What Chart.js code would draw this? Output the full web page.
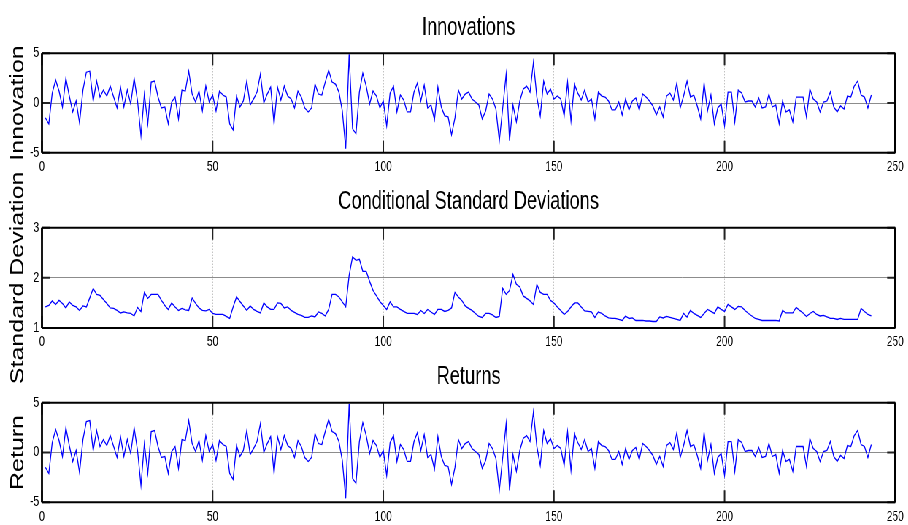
<!DOCTYPE html>
<html>
<head>
<meta charset="utf-8">
<script src="https://cdn.jsdelivr.net/npm/chart.js@4.4.0/dist/chart.umd.min.js"></script>
<style>
html, body { margin: 0; padding: 0; background: #fff; overflow: hidden; }
/* the original figure is squeezed sideways, so draw wide and squeeze */
#wrap { position: absolute; left: 0; top: 0; width: 1244px; height: 525px; transform: scaleX(0.73); transform-origin: 0 0; }
#wrap canvas { position: absolute; left: 0; top: 0; }
</style>
</head>
<body>
<div id="wrap">
  <canvas id="innovChart" width="1244" height="525"></canvas>
  <canvas id="sigmaChart" width="1244" height="525"></canvas>
  <canvas id="returnChart" width="1244" height="525"></canvas>
</div>
<script>
// Data
const xTicks = [0, 50, 100, 150, 200, 250];

const innovations = [
  -1.5, -2.1, 1.0, 2.3, 1.2, -0.4, 2.5, 0.7, -0.9, 0.2,
  -2.0, 1.3, 3.1, 3.2, 0.2, 2.2, 0.6, 1.3, 0.7, 1.7,
  0.6, -0.5, 1.6, -0.4, 1.3, -0.1, 2.5, 0.2, -3.3, 0.9,
  -2.1, 2.1, 2.2, 0.6, -0.5, -0.4, -2.1, 0.1, 0.6, -1.6,
  1.3, 1.2, 3.2, 0.9, 0.1, 1.2, -0.8, 1.7, 0.1, 0.8,
  -0.8, 1.2, 0.8, 0.6, -2.1, -2.7, 0.7, -0.4, 0.2, 2.2,
  -0.2, 0.4, 1.1, 2.9, 0.0, 0.9, 1.6, -2.1, 1.6, 0.3,
  1.7, 0.7, 0.4, -0.5, 1.2, 0.6, -0.5, -0.9, -0.5, 1.9,
  0.9, 0.8, 2.1, 3.3, 2.1, 1.9, 1.1, -0.8, -4.6, 4.9,
  -2.6, -3.1, 1.1, 3.0, 1.7, -0.1, 1.2, 0.7, -0.5, 0.2,
  -2.3, 1.0, 1.7, -0.9, 0.8, 0.3, -0.9, -0.9, 1.1, 2.0,
  0.2, 1.8, -0.5, -0.2, -1.7, 1.6, -0.4, -1.3, -1.4, -3.2,
  -1.5, 1.3, 0.4, 0.9, 1.1, 0.4, 0.1, -0.2, -1.6, -0.8,
  0.9, 0.4, -0.6, -3.8, -0.5, 2.9, -3.8, -0.2, -1.9, 0.2,
  1.4, 1.7, 1.1, 4.1, 0.6, -1.3, 2.2, 0.9, 1.4, 0.4,
  0.7, 0.4, -1.3, 2.1, -1.8, 1.9, 1.0, 0.3, 1.3, 0.1,
  0.4, -1.6, 1.1, 0.7, 0.6, 0.2, -0.7, -0.7, 0.1, -1.2,
  0.4, -0.7, 0.2, 0.5, -0.7, 0.9, 0.6, 0.2, -0.3, -1.2,
  -0.4, -1.4, 0.7, 1.0, 0.3, 2.0, -0.5, 0.7, 2.2, 0.6,
  0.8, -0.3, -1.6, 2.0, -0.8, 0.8, -2.1, -0.5, -0.1, -2.3,
  1.1, 1.1, -1.9, 1.3, 1.0, 0.1, 0.2, 0.2, -0.4, 0.5,
  -0.5, -0.4, 0.9, -0.4, -0.2, -2.1, 0.2, -0.9, -0.7, -1.9,
  0.6, 0.6, 0.6, -1.4, 1.4, 0.4, 0.1, -0.9, 0.1, 0.2,
  1.1, -0.4, -0.9, -0.3, -0.6, 0.7, 0.6, 1.7, 2.2, 0.8,
  0.6, -0.5, 0.8
];

const sigmas = [
  1.42, 1.45, 1.54, 1.47, 1.55, 1.49, 1.40, 1.52, 1.45, 1.42,
  1.35, 1.44, 1.42, 1.60, 1.79, 1.67, 1.65, 1.57, 1.49, 1.40,
  1.39, 1.35, 1.30, 1.32, 1.30, 1.29, 1.24, 1.41, 1.33, 1.71,
  1.59, 1.67, 1.67, 1.67, 1.55, 1.45, 1.37, 1.50, 1.42, 1.35,
  1.39, 1.36, 1.35, 1.60, 1.49, 1.40, 1.35, 1.34, 1.37, 1.29,
  1.27, 1.27, 1.27, 1.23, 1.19, 1.42, 1.62, 1.53, 1.44, 1.35,
  1.44, 1.37, 1.33, 1.30, 1.50, 1.42, 1.37, 1.37, 1.50, 1.49,
  1.40, 1.42, 1.35, 1.31, 1.27, 1.25, 1.21, 1.21, 1.24, 1.22,
  1.32, 1.29, 1.24, 1.37, 1.67, 1.67, 1.62, 1.52, 1.42, 2.05,
  2.42, 2.35, 2.37, 2.13, 2.13, 1.93, 1.75, 1.64, 1.53, 1.45,
  1.37, 1.52, 1.42, 1.42, 1.37, 1.33, 1.29, 1.29, 1.29, 1.27,
  1.35, 1.29, 1.37, 1.32, 1.27, 1.37, 1.37, 1.33, 1.35, 1.40,
  1.71, 1.62, 1.55, 1.44, 1.39, 1.35, 1.29, 1.23, 1.21, 1.29,
  1.29, 1.26, 1.21, 1.23, 1.79, 1.67, 1.75, 2.07, 1.87, 1.82,
  1.64, 1.59, 1.54, 1.47, 1.87, 1.71, 1.67, 1.67, 1.55, 1.50,
  1.42, 1.35, 1.27, 1.33, 1.42, 1.50, 1.50, 1.42, 1.34, 1.33,
  1.32, 1.21, 1.32, 1.29, 1.24, 1.20, 1.19, 1.19, 1.17, 1.15,
  1.24, 1.19, 1.20, 1.15, 1.15, 1.15, 1.14, 1.14, 1.13, 1.13,
  1.22, 1.20, 1.23, 1.21, 1.19, 1.17, 1.15, 1.29, 1.22, 1.35,
  1.29, 1.25, 1.21, 1.29, 1.37, 1.33, 1.29, 1.42, 1.37, 1.33,
  1.47, 1.42, 1.37, 1.43, 1.42, 1.35, 1.29, 1.24, 1.19, 1.17,
  1.15, 1.15, 1.15, 1.15, 1.15, 1.14, 1.35, 1.30, 1.30, 1.30,
  1.41, 1.35, 1.30, 1.23, 1.29, 1.33, 1.27, 1.24, 1.25, 1.22,
  1.19, 1.19, 1.17, 1.19, 1.17, 1.17, 1.17, 1.17, 1.17, 1.39,
  1.33, 1.27, 1.24
];

const returns = [
  -1.5, -2.1, 1.0, 2.3, 1.2, -0.4, 2.5, 0.7, -0.9, 0.2,
  -2.0, 1.3, 3.1, 3.2, 0.2, 2.2, 0.6, 1.3, 0.7, 1.7,
  0.6, -0.5, 1.6, -0.4, 1.3, -0.1, 2.5, 0.2, -3.3, 0.9,
  -2.1, 2.1, 2.2, 0.6, -0.5, -0.4, -2.1, 0.1, 0.6, -1.6,
  1.3, 1.2, 3.2, 0.9, 0.1, 1.2, -0.8, 1.7, 0.1, 0.8,
  -0.8, 1.2, 0.8, 0.6, -2.1, -2.7, 0.7, -0.4, 0.2, 2.2,
  -0.2, 0.4, 1.1, 2.9, 0.0, 0.9, 1.6, -2.1, 1.6, 0.3,
  1.7, 0.7, 0.4, -0.5, 1.2, 0.6, -0.5, -0.9, -0.5, 1.9,
  0.9, 0.8, 2.1, 3.3, 2.1, 1.9, 1.1, -0.8, -4.6, 4.9,
  -2.6, -3.1, 1.1, 3.0, 1.7, -0.1, 1.2, 0.7, -0.5, 0.2,
  -2.3, 1.0, 1.7, -0.9, 0.8, 0.3, -0.9, -0.9, 1.1, 2.0,
  0.2, 1.8, -0.5, -0.2, -1.7, 1.6, -0.4, -1.3, -1.4, -3.2,
  -1.5, 1.3, 0.4, 0.9, 1.1, 0.4, 0.1, -0.2, -1.6, -0.8,
  0.9, 0.4, -0.6, -3.8, -0.5, 2.9, -3.8, -0.2, -1.9, 0.2,
  1.4, 1.7, 1.1, 4.1, 0.6, -1.3, 2.2, 0.9, 1.4, 0.4,
  0.7, 0.4, -1.3, 2.1, -1.8, 1.9, 1.0, 0.3, 1.3, 0.1,
  0.4, -1.6, 1.1, 0.7, 0.6, 0.2, -0.7, -0.7, 0.1, -1.2,
  0.4, -0.7, 0.2, 0.5, -0.7, 0.9, 0.6, 0.2, -0.3, -1.2,
  -0.4, -1.4, 0.7, 1.0, 0.3, 2.0, -0.5, 0.7, 2.2, 0.6,
  0.8, -0.3, -1.6, 2.0, -0.8, 0.8, -2.1, -0.5, -0.1, -2.3,
  1.1, 1.1, -1.9, 1.3, 1.0, 0.1, 0.2, 0.2, -0.4, 0.5,
  -0.5, -0.4, 0.9, -0.4, -0.2, -2.1, 0.2, -0.9, -0.7, -1.9,
  0.6, 0.6, 0.6, -1.4, 1.4, 0.4, 0.1, -0.9, 0.1, 0.2,
  1.1, -0.4, -0.9, -0.3, -0.6, 0.7, 0.6, 1.7, 2.2, 0.8,
  0.6, -0.5, 0.8
];

const FONT = "'Liberation Sans', Arial, sans-serif";

// Box + inward tick marks, MATLAB style
const boxPlugin = {
  id: 'matlabBox',
  afterDraw(chart) {
    const { ctx, chartArea: a, scales } = chart;
    ctx.save();
    ctx.strokeStyle = '#222';
    ctx.lineWidth = 2;
    ctx.beginPath();
    scales.x.ticks.forEach(t => {
      const px = scales.x.getPixelForValue(t.value);
      ctx.moveTo(px, a.top); ctx.lineTo(px, a.top + 12);
      ctx.moveTo(px, a.bottom); ctx.lineTo(px, a.bottom - 12);
    });
    scales.y.ticks.forEach(t => {
      const py = scales.y.getPixelForValue(t.value);
      ctx.moveTo(a.left, py); ctx.lineTo(a.left + 11, py);
      ctx.moveTo(a.right, py); ctx.lineTo(a.right - 11, py);
    });
    ctx.stroke();
    ctx.strokeStyle = '#000';
    ctx.lineWidth = 2;
    ctx.beginPath();
    ctx.moveTo(a.left, a.top); ctx.lineTo(a.right, a.top);
    ctx.moveTo(a.left, a.bottom); ctx.lineTo(a.right, a.bottom);
    ctx.stroke();
    ctx.lineWidth = 2.8;
    ctx.beginPath();
    ctx.moveTo(a.left, a.top); ctx.lineTo(a.left, a.bottom);
    ctx.moveTo(a.right, a.top); ctx.lineTo(a.right, a.bottom);
    ctx.stroke();
    ctx.restore();
  }
};

function makePanel(id, values, title, yTitle, yMin, yMax, yStep, padTop, padBottom) {
  const points = values.map((v, i) => ({ x: i + 1, y: v }));
  return new Chart(document.getElementById(id), {
    type: 'line',
    data: {
      datasets: [{
        data: points,
        borderColor: '#0000ff',
        borderWidth: 1.3,
        pointRadius: 0,
        tension: 0,
        fill: false
      }]
    },
    options: {
      responsive: false,
      animation: false,
      events: [],
      layout: { padding: { left: 10, right: 13.9, top: padTop, bottom: padBottom } },
      plugins: {
        legend: { display: false },
        tooltip: { enabled: false },
        title: {
          display: true,
          fullSize: false,
          text: title,
          color: '#000',
          font: { family: FONT, size: 25, weight: 'normal', lineHeight: 1.2 },
          padding: { top: 0, bottom: 10.3 }
        }
      },
      scales: {
        x: {
          type: 'linear',
          min: xTicks[0],
          max: xTicks[xTicks.length - 1],
          afterBuildTicks: s => { s.ticks = xTicks.map(v => ({ value: v })); },
          ticks: { color: '#000', font: { family: FONT, size: 14 }, padding: 6, maxRotation: 0, autoSkip: false },
          grid: { color: '#a8a8a8', lineWidth: 1, drawTicks: false },
          border: { display: false, dash: [1, 2] },
          afterFit: s => { s.height = 20; }
        },
        y: {
          min: yMin,
          max: yMax,
          ticks: { stepSize: yStep, color: '#000', font: { family: FONT, size: 14 }, padding: 4 },
          grid: { color: '#8c8c8c', lineWidth: 1, drawTicks: false },
          border: { display: false },
          title: {
            display: true,
            text: yTitle,
            color: '#000',
            font: { family: FONT, size: 25, lineHeight: 1.2 },
            padding: 0
          },
          afterFit: s => { s.width = 47.5; }
        }
      }
    },
    plugins: [boxPlugin]
  });
}

makePanel('innovChart', innovations, 'Innovations', 'Innovation', -5, 5, 5, 13.0, 352.3);
makePanel('sigmaChart', sigmas, 'Conditional Standard Deviations', 'Standard Deviation', 1, 3, 1, 187.4, 177);
makePanel('returnChart', returns, 'Returns', 'Return', -5, 5, 5, 362.4, 2.7);
</script>
</body>
</html>
